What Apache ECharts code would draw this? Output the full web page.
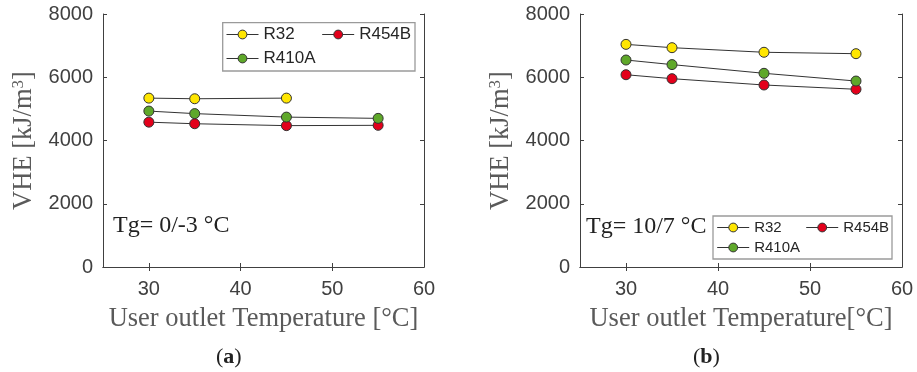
<!DOCTYPE html>
<html>
<head>
<meta charset="utf-8">
<script src="https://cdn.jsdelivr.net/npm/echarts@6/dist/echarts.min.js"></script>
<style>html,body{margin:0;padding:0;background:#fff}#c{width:917px;height:372px}</style>
</head>
<body>
<div id="c"></div>
<script>
// ---- data ----
const temps = [30, 35, 45, 55];
const xTicks = [30, 40, 50, 60];
const yTicks = [0, 2000, 4000, 6000, 8000];
// (a) Tg = 0/-3 °C
const aR32   = [5340, 5320, 5340, null];
const aR410A = [4930, 4850, 4740, 4700];
const aR454B = [4580, 4530, 4470, 4480];
// (b) Tg = 10/7 °C
const bR32   = [7040, 6935, 6790, 6745];
const bR410A = [6545, 6400, 6125, 5880];
const bR454B = [6080, 5955, 5755, 5620];
const seriesNames = ['R32', 'R454B', 'R410A'];
const panelLabels = ['a', 'b'];
const annotations = ['Tg= 0/-3 °C', 'Tg= 10/7 °C'];
const xTitles = ['User outlet Temperature [°C]', 'User outlet Temperature[°C]'];

const colors = { R32: '#ffe600', R454B: '#e3001b', R410A: '#5fa82a' };
const axisColor = '#404040';
const serif = '"Liberation Serif", "Times New Roman", serif';
const sans = '"Liberation Sans", Arial, sans-serif';

function pts(arr) {
  return temps.map((t, i) => [t, arr[i]]).filter(d => d[1] != null);
}

const grids = [
  { left: 103, right: 493, top: 14, bottom: 105 },
  { left: 580, right: 15, top: 14, bottom: 105 }
];

const xAxes = [], yAxes = [];
[0, 1].forEach(g => {
  xAxes.push({
    type: 'value', gridIndex: g, position: 'bottom', min: 25, max: 60,
    axisLine: { show: true, lineStyle: { color: axisColor, width: 1 } },
    axisTick: { show: true, inside: true, length: 4, customValues: xTicks.slice(0, 3), lineStyle: { color: axisColor } },
    axisLabel: { show: true, customValues: xTicks, margin: 12, fontSize: 20, fontFamily: sans, color: axisColor },
    splitLine: { show: false },
    name: xTitles[g], nameLocation: 'middle', nameGap: 39,
    nameTextStyle: { fontFamily: serif, fontSize: 26.5, color: '#5a5a5a' }
  });
  xAxes.push({
    type: 'value', gridIndex: g, position: 'top', min: 25, max: 60,
    axisLine: { show: true, lineStyle: { color: axisColor, width: 1 } },
    axisTick: { show: true, inside: true, length: 4, customValues: xTicks.slice(0, 3), lineStyle: { color: axisColor } },
    axisLabel: { show: false }, splitLine: { show: false }
  });
  yAxes.push({
    type: 'value', gridIndex: g, position: 'left', min: 0, max: 8000, interval: 2000,
    axisLine: { show: true, lineStyle: { color: axisColor, width: 1 } },
    axisTick: { show: true, inside: true, length: 4, lineStyle: { color: axisColor } },
    axisLabel: { show: true, margin: 10, fontSize: 20, fontFamily: sans, color: axisColor, formatter: v => String(v) },
    splitLine: { show: false },
    name: 'VHE [kJ/m{sup|3}]', nameLocation: 'middle', nameGap: 64,
    nameTextStyle: {
      fontFamily: serif, fontSize: 26.5, color: '#5a5a5a',
      rich: { sup: { fontFamily: serif, fontSize: 17, color: '#5a5a5a', verticalAlign: 'top', padding: [0, 0, 12, 0] } }
    }
  });
  yAxes.push({
    type: 'value', gridIndex: g, position: 'right', min: 0, max: 8000, interval: 2000,
    axisLine: { show: true, lineStyle: { color: axisColor, width: 1 } },
    axisTick: { show: true, inside: true, length: 4, lineStyle: { color: axisColor } },
    axisLabel: { show: false }, splitLine: { show: false }
  });
});

function mk(name, arr, g) {
  return {
    name: name, type: 'line', xAxisIndex: g * 2, yAxisIndex: g * 2,
    data: pts(arr), symbol: 'circle', symbolSize: 10,
    lineStyle: { color: '#333', width: 1 },
    itemStyle: { color: colors[name], borderColor: '#333', borderWidth: 1 },
    emphasis: { disabled: true }, z: 3
  };
}

const series = [
  mk('R32', aR32, 0), mk('R454B', aR454B, 0), mk('R410A', aR410A, 0),
  mk('R32', bR32, 1), mk('R454B', bR454B, 1), mk('R410A', bR410A, 1)
];

function legendRow(names, left, top, fs, gap) {
  return {
    data: names, left: left, top: top, orient: 'horizontal', padding: 0,
    itemWidth: 32, itemHeight: 11, itemGap: gap, selectedMode: false,
    lineStyle: { color: '#333', width: 1 },
    itemStyle: { borderColor: '#333', borderWidth: 1 },
    textStyle: { fontFamily: sans, fontSize: fs, color: '#262626' }
  };
}

const option = {
  animation: false,
  backgroundColor: '#fff',
  grid: grids,
  xAxis: xAxes,
  yAxis: yAxes,
  series: series,
  legend: [
    legendRow(['R32', 'R454B'], 226, 26, 17, 27),
    legendRow(['R410A'], 226, 50, 17, 27),
    legendRow(['R32', 'R454B'], 716.7, 220, 15, 24),
    legendRow(['R410A'], 716.7, 240, 15, 24)
  ],
  graphic: [
    { type: 'rect', shape: { x: 222.7, y: 22.7, width: 192.3, height: 48.3 }, style: { fill: '#fff', stroke: '#9a9a9a', lineWidth: 1.3 }, z: 1 },
    { type: 'rect', shape: { x: 713, y: 216, width: 179, height: 43 }, style: { fill: '#fff', stroke: '#9a9a9a', lineWidth: 1.3 }, z: 1 }
  ],
  title: [
    { text: annotations[0], left: 113, top: 214, padding: 0, textStyle: { fontFamily: serif, fontSize: 24, fontWeight: 'normal', color: '#222' } },
    { text: annotations[1], left: 586, top: 215, padding: 0, textStyle: { fontFamily: serif, fontSize: 24, fontWeight: 'normal', color: '#222' } },
    { text: '{p|(}{b|' + panelLabels[0] + '}{p|)}', left: 216, top: 346, padding: 0,
      textStyle: { fontWeight: 'normal', rich: { p: { fontFamily: serif, fontSize: 22, fontWeight: 'normal', color: '#222' }, b: { fontFamily: serif, fontSize: 22, fontWeight: 'bold', color: '#222' } } } },
    { text: '{p|(}{b|' + panelLabels[1] + '}{p|)}', left: 693, top: 346, padding: 0,
      textStyle: { fontWeight: 'normal', rich: { p: { fontFamily: serif, fontSize: 22, fontWeight: 'normal', color: '#222' }, b: { fontFamily: serif, fontSize: 22, fontWeight: 'bold', color: '#222' } } } }
  ]
};

const chart = echarts.init(document.getElementById('c'), null, { renderer: 'canvas' });
chart.setOption(option);
</script>
</body>
</html>
